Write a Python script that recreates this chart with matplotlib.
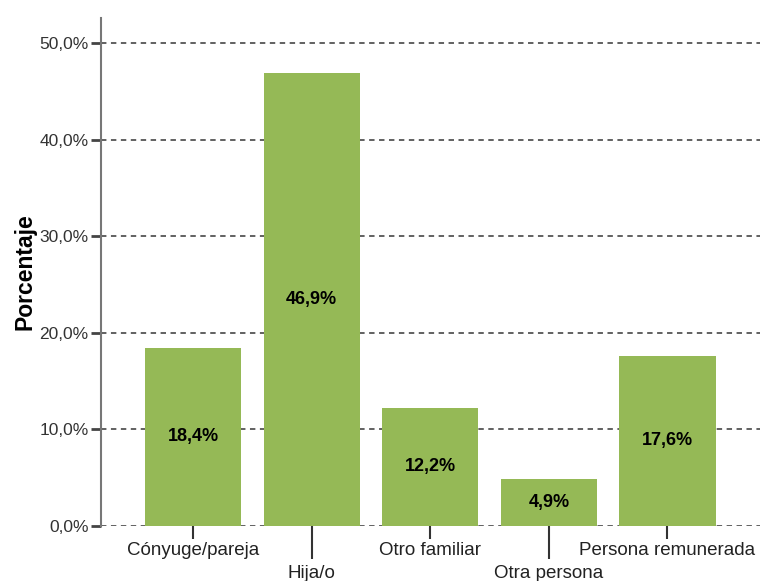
import matplotlib.pyplot as plt

# Data
categories = ["Cónyuge/pareja", "Hija/o", "Otro familiar", "Otra persona", "Persona remunerada"]
percentages = [18.4, 46.9, 12.2, 4.9, 17.6]
y_ticks = [0, 10, 20, 30, 40, 50]

plt.rcParams['font.family'] = ['Liberation Sans', 'DejaVu Sans']

fig = plt.figure(figsize=(7.6, 5.81), dpi=100)
ax = fig.add_axes([0.133, 0.095, 0.867, 0.874])

x = list(range(len(categories)))
bars = ax.bar(x, percentages, width=0.81, color='#95b956', zorder=3)

# labels inside the bars, centred vertically
for xi, val in zip(x, percentages):
    ax.text(xi, val / 2, f"{val:.1f}%".replace('.', ','), ha='center', va='center',
            fontsize=13, fontweight='bold', color='black', zorder=4)

ax.set_xlim(-0.775, 4.78)
ax.set_ylim(0, 52.6)

ax.set_yticks(y_ticks)
ax.set_yticklabels([f"{v:.1f}%".replace('.', ',') for v in y_ticks], fontsize=12.5, color='#333333')
ax.yaxis.grid(True, linestyle=(0, (3, 2.5)), color='#555555', linewidth=1.3, zorder=0)

# alternate category labels: even on short ticks, odd on long ticks
ax.set_xticks(x[0::2])
ax.set_xticklabels(categories[0::2], fontsize=13.5, color='#222222')
ax.set_xticks(x[1::2], minor=True)
ax.set_xticklabels(categories[1::2], minor=True, fontsize=13.5, color='#222222')
ax.tick_params(axis='x', which='major', length=9, width=1.5, color='#333333', pad=3)
ax.tick_params(axis='x', which='minor', length=24, width=1.5, color='#333333', pad=4)
ax.tick_params(axis='y', length=7, width=2, color='#444444', pad=2)

for side in ['top', 'right', 'bottom']:
    ax.spines[side].set_visible(False)
ax.spines['left'].set_color('#777777')
ax.spines['left'].set_linewidth(1.5)

ax.set_ylabel("Porcentaje", fontsize=16.5, fontweight='bold', labelpad=2)

fig.savefig("out.png", dpi=100)
